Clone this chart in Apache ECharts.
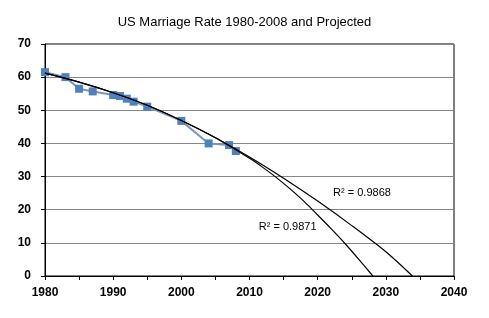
<!DOCTYPE html>
<html>
<head>
<meta charset="utf-8">
<script src="https://cdn.jsdelivr.net/npm/echarts@6/dist/echarts.min.js"></script>
<style>
html,body{margin:0;padding:0;background:#fff;}
#chart{width:489px;height:318px;}
</style>
</head>
<body>
<div id="chart"></div>
<script>
// Observed data
var years = [1980, 1983, 1985, 1987, 1990, 1991, 1992, 1993, 1995, 2000, 2004, 2007, 2008];
var rates = [61.5, 60.0, 56.5, 55.7, 54.6, 54.3, 53.5, 52.6, 51.1, 46.8, 40.0, 39.5, 37.7];

// Trend line (R² = 0.9868)
var trendBYears = [1980, 1985, 1990, 1995, 2000, 2005, 2010, 2015, 2020, 2025, 2030, 2033.9];
var trendBValues = [61.2, 58.5, 55.3, 51.5, 46.9, 41.7, 35.9, 29.5, 22.6, 15.2, 7.3, 0];

// Trend line (R² = 0.9871)
var trendAYears = [1980, 1985, 1990, 1995, 2000, 2005, 2010, 2012, 2014, 2016, 2018, 2020, 2022, 2024, 2026, 2028.1];
var trendAValues = [61.2, 58.5, 55.3, 51.5, 46.9, 41.7, 35.5, 32.7, 29.6, 26.2, 22.5, 18.4, 14.2, 9.8, 5.1, 0];

var title = 'US Marriage Rate 1980-2008 and Projected';
var labelB = 'R\u00B2 = 0.9868';
var labelA = 'R\u00B2 = 0.9871';
var labelBPos = [2026.5, 25.2];
var labelAPos = [2015.6, 14.9];

function zip(a, b) { return a.map(function (v, i) { return [v, b[i]]; }); }

var chart = echarts.init(document.getElementById('chart'));
chart.setOption({
  animation: false,
  backgroundColor: '#ffffff',
  title: {
    text: title,
    left: 'center',
    top: 11,
    textStyle: { fontFamily: 'Liberation Sans', fontSize: 13, fontWeight: 'normal', color: '#000' }
  },
  grid: {
    left: 45, right: 35, top: 44, bottom: 42,
    show: true, borderColor: '#000', borderWidth: 1, backgroundColor: 'transparent'
  },
  xAxis: {
    type: 'value', min: 1980, max: 2040, interval: 5,
    axisLine: { lineStyle: { color: '#000', width: 1 } },
    axisTick: { show: true, length: 4, inside: false, lineStyle: { color: '#000' } },
    splitLine: { show: false },
    axisLabel: {
      fontFamily: 'Liberation Sans', fontSize: 12, fontWeight: 'bold', color: '#000', margin: 11,
      formatter: function (v) { return v % 10 === 0 ? String(v) : ''; }
    }
  },
  yAxis: {
    type: 'value', min: 0, max: 70, interval: 10,
    axisLine: { show: true, lineStyle: { color: '#000', width: 1 } },
    axisTick: { show: true, length: 4, lineStyle: { color: '#000' } },
    splitLine: { show: true, lineStyle: { color: '#868686', width: 1 } },
    axisLabel: { fontFamily: 'Liberation Sans', fontSize: 12, fontWeight: 'bold', color: '#000', margin: 14 }
  },
  series: [
    {
      type: 'line',
      data: zip(years, rates),
      symbol: 'rect',
      symbolSize: 8,
      itemStyle: { color: '#4F81BD' },
      lineStyle: { color: '#7896c0', width: 2 },
      z: 2
    },
    {
      type: 'line',
      data: zip(trendBYears, trendBValues),
      symbol: 'none',
      smooth: 0.3,
      lineStyle: { color: '#000', width: 1.2 },
      z: 3,
      markPoint: {
        symbol: 'circle', symbolSize: 0,
        label: { show: true, position: 'inside', formatter: labelB, fontFamily: 'Liberation Sans', fontSize: 11, color: '#000' },
        data: [{ coord: labelBPos }]
      }
    },
    {
      type: 'line',
      data: zip(trendAYears, trendAValues),
      symbol: 'none',
      smooth: 0.3,
      lineStyle: { color: '#000', width: 1.2 },
      z: 3,
      markPoint: {
        symbol: 'circle', symbolSize: 0,
        label: { show: true, position: 'inside', formatter: labelA, fontFamily: 'Liberation Sans', fontSize: 11, color: '#000' },
        data: [{ coord: labelAPos }]
      }
    }
  ]
});
</script>
</body>
</html>
